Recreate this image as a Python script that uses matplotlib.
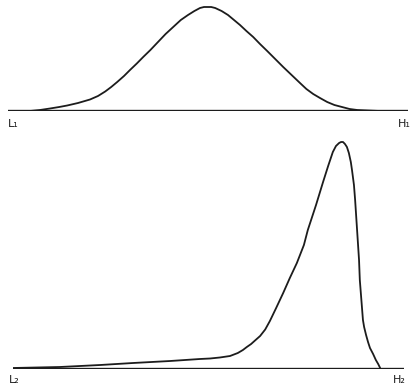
import matplotlib
matplotlib.use("Agg")
import matplotlib.pyplot as plt

# upper curve: position between L1 (0) and H1 (100), height above base
top_x = [0, 5.5, 8, 10.5, 12.8, 14.8, 17.5, 20.5, 22.5, 24.3, 25.8, 27.3, 29, 30.5,
         32.2, 33.8, 35.6, 37.5, 39.4, 41.3, 43.2, 45, 46.6, 48, 49, 49.8, 50.8,
         51.8, 53.4, 55, 56.5, 58, 59.6, 61.3, 63, 64.8, 66.8, 68.8, 70.9, 73,
         74.6, 76.3, 78, 79.8, 81.6, 83.5, 85.4, 87.3, 90, 93, 100]
top_y = [0, 0, 1, 2.5, 4, 5.5, 8, 11.5, 15, 19.5, 24, 29, 35, 41,
         47.5, 54, 61, 69, 77, 84, 91, 96, 100, 103, 104, 104, 104,
         103, 100, 96, 91, 86, 80, 74, 67, 60, 52, 44, 36, 28,
         22, 17, 13, 9, 6, 4, 2, 1, 0.5, 0, 0]

# lower curve: position between L2 (0) and H2 (100)
bot_x = [0, 12.0, 22.3, 30.7, 40.2, 47.8, 50.4, 52.9, 55.5, 57.5, 58.8, 59.8,
         60.9, 61.9, 63.2, 64.5, 65.7, 67.3, 69.1, 70.8, 72.6, 74.4, 75.4, 77.5,
         79.3, 80.6, 81.8, 82.6, 83.4, 83.9, 84.4, 84.9, 85.4, 85.9, 86.4, 86.7,
         87.2, 87.5, 88.0, 88.5, 88.7, 89.0, 89.3, 89.5, 89.8, 90.3, 90.8, 91.3,
         92.1, 92.8, 93.4, 93.9]
bot_y = [1, 2, 4, 6, 8, 10, 10.5, 11.5, 13, 16, 19, 22,
         25, 28.5, 33, 39.5, 48, 61, 76, 91, 106, 124, 139, 164,
         187, 203, 217, 223, 226, 227, 227, 225, 222, 216, 207, 199,
         184, 169, 139, 109, 89, 74, 59, 49, 42, 34, 27, 21,
         15, 9, 5, 1]

top_labels = ["L\u2081", "H\u2081"]
bot_labels = ["L\u2082", "H\u2082"]

ink = "#1c1c1c"
W, H = 420, 390
fig = plt.figure(figsize=(4.2, 3.9), dpi=100)

# upper panel
ax1 = fig.add_axes([8 / W, (H - 111) / H, 400 / W, 111 / H])
ax1.plot(top_x, top_y, color=ink, lw=1.3, solid_joinstyle="round", solid_capstyle="round")
ax1.plot([0, 100], [0, 0], color=ink, lw=1.7)
ax1.set_xlim(0, 100)
ax1.set_ylim(0, 111)
ax1.axis("off")

# lower panel
ax2 = fig.add_axes([13 / W, (H - 369) / H, 391 / W, 240 / H])
ax2.plot(bot_x, bot_y, color=ink, lw=1.3, solid_joinstyle="round", solid_capstyle="round")
ax2.plot([0, 100], [0, 0], color=ink, lw=1.7)
ax2.set_xlim(0, 100)
ax2.set_ylim(0, 240)
ax2.axis("off")

fig.text(8 / W, 1 - 124 / H, top_labels[0], fontsize=8, color=ink, ha="left", va="center")
fig.text(404 / W, 1 - 124 / H, top_labels[1], fontsize=8, color=ink, ha="center", va="center")
fig.text(9 / W, 1 - 380 / H, bot_labels[0], fontsize=8, color=ink, ha="left", va="center")
fig.text(399 / W, 1 - 380 / H, bot_labels[1], fontsize=8, color=ink, ha="center", va="center")

fig.savefig("out.png", dpi=100, facecolor="white")
